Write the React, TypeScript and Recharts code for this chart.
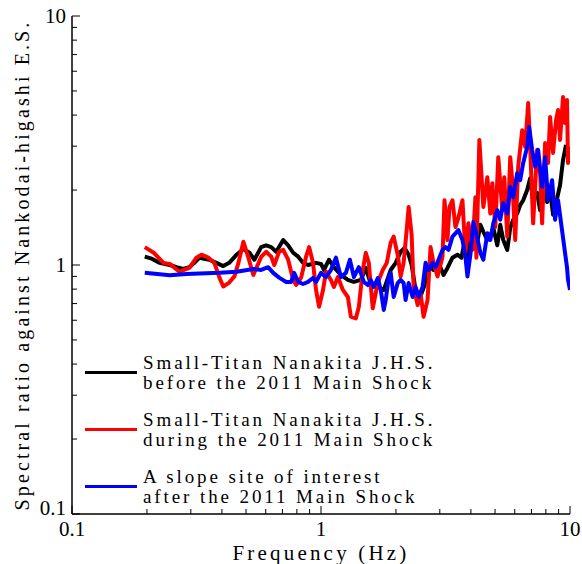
import React from 'react';
import { LineChart, Line, XAxis, YAxis } from 'recharts';

// Small-Titan Nanakita J.H.S., before the 2011 main shock
const beforeFreq = [
  0.196, 0.209, 0.225, 0.247, 0.263, 0.28, 0.296, 0.31, 0.325, 0.356, 0.38, 0.405, 0.428, 0.458, 0.488,
  0.516, 0.54, 0.575, 0.602, 0.631, 0.661, 0.705, 0.738, 0.773, 0.81, 0.847, 0.887, 0.955, 1.0, 1.028,
  1.077, 1.127, 1.202, 1.282, 1.355, 1.445, 1.513, 1.585, 1.691, 1.787, 1.905, 1.995, 2.089, 2.167, 2.249,
  2.312, 2.399, 2.512, 2.606, 2.704, 2.831, 2.965, 3.105, 3.221, 3.373, 3.532, 3.665, 3.767, 3.873, 3.981,
  4.13, 4.246, 4.365, 4.487, 4.656, 4.786, 4.92, 5.105, 5.248, 5.395, 5.598, 5.754, 5.915, 6.137, 6.31,
  6.487, 6.73, 6.918, 7.112, 7.379, 7.586, 7.798, 8.091, 8.318, 8.551, 8.872, 9.12, 9.375, 9.638,
];
const beforeRatio = [
  1.08, 1.06, 1.02, 1.0, 0.98, 0.964, 0.98, 1.02, 1.07, 1.05, 1.02, 0.99, 1.02, 1.1, 1.16,
  1.12, 1.05, 1.18, 1.2, 1.18, 1.13, 1.26, 1.2, 1.12, 1.08, 1.02, 1.0, 1.02, 1.01, 0.955,
  1.05, 0.98, 0.912, 0.871, 0.855, 0.871, 0.973, 0.839, 0.816, 0.794, 0.955, 1.02, 1.13, 1.17, 1.1,
  1.0, 0.794, 0.751, 0.831, 1.0, 0.955, 1.02, 0.912, 0.973, 1.07, 1.1, 1.07, 1.23, 1.07, 1.26,
  1.18, 1.24, 1.45, 1.36, 1.26, 1.31, 1.41, 1.2, 1.45, 1.26, 1.15, 1.41, 1.52, 1.61, 1.74,
  1.82, 2.0, 2.23, 1.82, 1.95, 1.66, 2.04, 1.79, 2.0, 1.59, 1.85, 2.09, 2.64, 3.04,
];

// Small-Titan Nanakita J.H.S., during the 2011 main shock
const duringFreq = [
  0.196, 0.213, 0.233, 0.247, 0.27, 0.296, 0.316, 0.331, 0.353, 0.373, 0.391, 0.405, 0.428, 0.449, 0.466,
  0.488, 0.511, 0.535, 0.55, 0.575, 0.602, 0.631, 0.649, 0.679, 0.705, 0.738, 0.773, 0.795, 0.832, 0.871,
  0.896, 0.929, 0.955, 0.982, 1.019, 1.047, 1.096, 1.127, 1.169, 1.224, 1.282, 1.318, 1.38, 1.419, 1.472,
  1.513, 1.556, 1.614, 1.691, 1.77, 1.837, 1.905, 1.958, 2.032, 2.089, 2.147, 2.208, 2.249, 2.312, 2.355,
  2.444, 2.512, 2.582, 2.679, 2.754, 2.831, 2.937, 3.076, 3.133, 3.221, 3.281, 3.373, 3.467, 3.564, 3.699,
  3.802, 3.909, 4.055, 4.169, 4.207, 4.325, 4.487, 4.656, 4.786, 4.875, 5.011, 5.152, 5.346, 5.445, 5.598,
  5.754, 5.861, 6.025, 6.194, 6.427, 6.607, 6.793, 6.918, 7.112, 7.379, 7.586, 7.727, 7.943, 8.166, 8.318,
  8.551, 8.79, 8.954, 9.12, 9.375, 9.55, 9.727, 9.818, 10.0,
];
const duringRatio = [
  1.18, 1.12, 1.02, 1.01, 0.94, 0.973, 1.07, 1.1, 1.07, 1.02, 0.89, 0.82, 0.85, 0.9, 1.02,
  1.24, 1.07, 0.912, 0.973, 1.077, 1.13, 1.08, 1.0, 1.13, 1.15, 1.05, 0.871, 0.831, 0.89, 1.08,
  1.18, 1.02, 0.794, 0.68, 0.794, 0.94, 0.871, 0.816, 0.895, 0.794, 0.744, 0.62, 0.61, 0.68, 0.955,
  1.12, 1.02, 0.67, 0.85, 0.955, 1.02, 1.23, 1.3, 1.1, 0.9, 1.02, 1.38, 1.71, 1.32, 0.82,
  0.691, 0.77, 0.62, 0.724, 1.18, 1.02, 0.9, 1.08, 1.82, 1.26, 1.71, 1.82, 1.42, 1.55, 1.82,
  1.12, 1.47, 1.15, 1.87, 1.07, 3.18, 1.71, 2.25, 1.61, 2.13, 1.42, 2.71, 1.66, 2.25, 1.3,
  2.71, 2.19, 1.26, 2.48, 3.48, 2.98, 4.47, 2.98, 1.47, 2.9, 2.34, 1.47, 3.09, 2.57, 3.93,
  2.82, 3.82, 4.19, 3.18, 4.73, 3.72, 4.6, 2.57, 2.98,
];

// slope site of interest, after the 2011 main shock
const afterFreq = [
  0.196, 0.247, 0.288, 0.391, 0.458, 0.535, 0.575, 0.613, 0.643, 0.679, 0.725, 0.759, 0.78, 0.81, 0.847,
  0.887, 0.929, 0.955, 1.0, 1.047, 1.096, 1.148, 1.202, 1.259, 1.306, 1.355, 1.419, 1.485, 1.541, 1.585,
  1.629, 1.691, 1.738, 1.787, 1.82, 1.871, 1.905, 1.958, 2.032, 2.089, 2.147, 2.187, 2.249, 2.334, 2.399,
  2.466, 2.559, 2.63, 2.704, 2.805, 2.884, 2.965, 3.076, 3.162, 3.251, 3.373, 3.467, 3.564, 3.699, 3.802,
  3.873, 3.981, 4.093, 4.246, 4.365, 4.487, 4.656, 4.786, 4.92, 5.105, 5.248, 5.395, 5.598, 5.754, 5.915,
  6.137, 6.31, 6.487, 6.73, 6.855, 7.047, 7.244, 7.447, 7.727, 7.943, 8.166, 8.473, 8.71, 8.954, 9.29,
  9.55, 9.727, 9.818, 10.0,
];
const afterRatio = [
  0.93, 0.91, 0.92, 0.93, 0.94, 0.964, 0.955, 0.98, 0.93, 0.89, 0.855, 0.855, 0.93, 0.855, 0.839,
  0.855, 0.887, 0.855, 0.93, 0.895, 0.955, 1.07, 0.895, 0.93, 1.05, 0.895, 0.98, 0.855, 0.831, 0.871,
  0.816, 0.887, 0.794, 0.66, 0.724, 0.895, 0.93, 0.744, 0.846, 0.871, 0.846, 0.724, 0.846, 0.744, 0.816,
  0.744, 0.816, 1.02, 0.955, 1.02, 0.98, 1.05, 1.15, 1.18, 1.15, 1.3, 1.34, 1.38, 1.26, 1.08,
  0.9, 1.1, 1.49, 1.28, 1.12, 1.05, 1.34, 1.26, 1.47, 1.66, 1.52, 1.77, 1.61, 2.06, 1.87,
  2.34, 2.19, 2.57, 2.98, 3.58, 2.9, 2.48, 2.9, 2.06, 2.71, 1.82, 2.19, 1.52, 1.82, 1.38,
  1.12, 0.98, 0.871, 0.794,
];

// log axis ticks (same decades on both axes)
const logTicks = [
  0.1, 0.2, 0.3, 0.4, 0.5, 0.6, 0.7, 0.8, 0.9,
  1, 2, 3, 4, 5, 6, 7, 8, 9, 10,
];
const majorTicks = [0.1, 1, 10];
const majorLabels = ['0.1', '1', '10'];

const legendLines = [
  ['Small-Titan Nanakita J.H.S.', 'before the 2011 Main Shock'],
  ['Small-Titan Nanakita J.H.S.', 'during the 2011 Main Shock'],
  ['A slope site of interest', 'after the 2011 Main Shock'],
];
const seriesColors = ['#000000', '#ff0000', '#0000ff'];

const FONT = 'Liberation Serif, Tinos, Times New Roman, DejaVu Serif, serif';

const toPoints = (freq: number[], ratio: number[]) =>
  freq.map((f, i) => ({ freq: f, ratio: ratio[i] }));

const series = [
  { key: 'before', data: toPoints(beforeFreq, beforeRatio), color: seriesColors[0] },
  { key: 'during', data: toPoints(duringFreq, duringRatio), color: seriesColors[1] },
  { key: 'after', data: toPoints(afterFreq, afterRatio), color: seriesColors[2] },
];

const labelFor = (v: number) => {
  const i = majorTicks.indexOf(v);
  return i >= 0 ? majorLabels[i] : null;
};

// ticks point inward, only decades get a label
const XTick = ({ x, y, payload }: any) => {
  const label = labelFor(payload.value);
  return (
    <g>
      <line x1={x} x2={x} y1={y} y2={y - (label ? 8 : 5)} stroke="#000" strokeWidth={1} />
      {label && (
        <text x={x} y={y + 22} textAnchor="middle" fontSize={21} style={{ fontFamily: FONT }} fill="#000">
          {label}
        </text>
      )}
    </g>
  );
};

const YTick = ({ x, y, payload, index }: any) => {
  const label = labelFor(payload.value);
  // the bottom label sits a little higher so it clears the x-axis "0.1"
  const dy = index === 0 ? 1 : 7;
  return (
    <g>
      <line x1={x} x2={x + (label ? 8 : 5)} y1={y} y2={y} stroke="#000" strokeWidth={1} />
      {label && (
        <text x={x - 6} y={y} dy={dy} textAnchor="end" fontSize={21} style={{ fontFamily: FONT }} fill="#000">
          {label}
        </text>
      )}
    </g>
  );
};

export default function App() {
  return (
    <div style={{ position: 'absolute', left: 0, top: 0, width: 582, height: 564, background: '#fff', fontFamily: FONT }}>
      <LineChart width={582} height={564} margin={{ top: 16, right: 12, bottom: 0, left: 0 }}>
        <XAxis
          dataKey="freq"
          type="number"
          scale="log"
          domain={[0.1, 10]}
          ticks={logTicks}
          interval={0}
          allowDataOverflow
          height={50}
          tickSize={0}
          tickMargin={0}
          tick={<XTick />}
          axisLine={{ stroke: '#000', strokeWidth: 1.5 }}
          label={{
            value: 'Frequency (Hz)',
            position: 'insideBottom',
            offset: 4,
            style: { fontSize: 21, fontFamily: FONT, fill: '#000', letterSpacing: 3.2 },
          }}
        />
        <YAxis
          type="number"
          scale="log"
          domain={[0.1, 10]}
          ticks={logTicks}
          interval={0}
          allowDataOverflow
          width={72}
          tickSize={0}
          tickMargin={0}
          tick={<YTick />}
          axisLine={{ stroke: '#000', strokeWidth: 1.5 }}
          label={{
            value: 'Spectral ratio against Nankodai-higashi E.S.',
            angle: -90,
            position: 'insideLeft',
            offset: 22,
            style: { fontSize: 20, fontFamily: FONT, fill: '#000', letterSpacing: 3.1, textAnchor: 'middle' },
          }}
        />
        {series.map((s) => (
          <Line
            key={s.key}
            data={s.data}
            dataKey="ratio"
            type="linear"
            stroke={s.color}
            strokeWidth={4}
            strokeLinejoin="round"
            dot={false}
            activeDot={false}
            isAnimationActive={false}
          />
        ))}
      </LineChart>
      <div
        style={{
          position: 'absolute',
          left: 85,
          top: 353,
          fontSize: 19,
          letterSpacing: 2.9,
          lineHeight: '19.5px',
          color: '#000',
        }}
      >
        {legendLines.map((lines, i) => (
          <div key={i} style={{ display: 'flex', alignItems: 'center', marginBottom: 18 }}>
            <div style={{ width: 52, height: 3.5, background: seriesColors[i], marginRight: 6 }} />
            <div style={{ whiteSpace: 'nowrap' }}>
              {lines.map((t, j) => (
                <div key={j}>{t}</div>
              ))}
            </div>
          </div>
        ))}
      </div>
    </div>
  );
}
